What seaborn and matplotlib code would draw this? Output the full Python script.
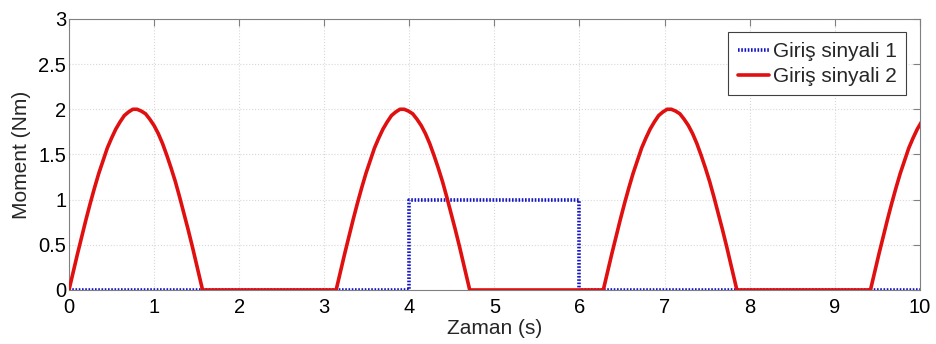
import numpy as np
import pandas as pd
import matplotlib
matplotlib.use("Agg")
import matplotlib.pyplot as plt
import seaborn as sns

# Giris sinyali 1: rectangular pulse
sig1_t = [0, 4, 4, 6, 6, 10]
sig1_y = [0, 0, 1, 1, 0, 0]

# Giris sinyali 2: repeating half-wave humps
hump_dt = [0.00, 0.05, 0.10, 0.15, 0.20, 0.25, 0.30, 0.35, 0.40, 0.45,
           0.50, 0.55, 0.60, 0.65, 0.70, 0.75, 0.80, 0.85, 0.90, 0.95,
           1.00, 1.05, 1.10, 1.15, 1.20, 1.25, 1.30, 1.35, 1.40, 1.45,
           1.50, 1.55, 1.57]
hump_y = [0.00, 0.20, 0.40, 0.59, 0.78, 0.96, 1.13, 1.29, 1.43, 1.57,
          1.68, 1.78, 1.86, 1.93, 1.97, 2.00, 2.00, 1.98, 1.95, 1.89,
          1.82, 1.73, 1.62, 1.49, 1.35, 1.20, 1.03, 0.85, 0.67, 0.48,
          0.28, 0.08, 0.00]
hump_starts = [0.0, 3.14, 6.28, 9.42]

x_ticks = list(range(0, 11))
y_ticks = [0, 0.5, 1, 1.5, 2, 2.5, 3]
y_tick_labels = ["0", "0.5", "1", "1.5", "2", "2.5", "3"]

# build the second series from the hump profile
t2, y2 = [], []
for s in hump_starts:
    t2 += [s + d for d in hump_dt]
    y2 += hump_y
df1 = pd.DataFrame({"t": sig1_t, "y": sig1_y})
df2 = pd.DataFrame({"t": t2, "y": y2})

sns.set_style("white")
plt.rcParams["font.family"] = ["Liberation Sans", "DejaVu Sans"]

fig = plt.figure(figsize=(9.36, 3.44), dpi=100)
ax = fig.add_axes([0.0737, 0.157, 0.909, 0.788])

sns.lineplot(data=df1, x="t", y="y", ax=ax, color="#1414c8", lw=2.6,
             linestyle=(0, (0.45, 0.45)), label="Giriş sinyali 1",
             sort=False, estimator=None, zorder=3)
sns.lineplot(data=df2, x="t", y="y", ax=ax, color="#e01010", lw=2.6,
             label="Giriş sinyali 2", sort=False, estimator=None, zorder=4)

ax.set_xlim(0, 10)
ax.set_ylim(0, 3)
ax.set_xticks(x_ticks)
ax.set_yticks(y_ticks)
ax.set_yticklabels(y_tick_labels)
ax.grid(True, color="#d8d8d8", linestyle=":", linewidth=0.8)
ax.tick_params(direction="in", length=5, width=0.8, colors="#808080",
               labelcolor="black", labelsize=14.5, top=True, right=True)
ax.tick_params(axis="x", pad=6)
ax.tick_params(axis="y", pad=2)
for sp in ax.spines.values():
    sp.set_color("#808080")
    sp.set_linewidth(0.8)
ax.set_xlabel("Zaman (s)", fontsize=15, labelpad=1)
ax.set_ylabel("Moment (Nm)", fontsize=15, labelpad=5)

leg = ax.legend(loc="upper right", fontsize=15, handlelength=1.5,
                handletextpad=0.2, borderpad=0.45, labelspacing=0.3,
                fancybox=False, framealpha=1, borderaxespad=0.65)
leg.get_frame().set_edgecolor("#404040")
leg.get_frame().set_linewidth(0.8)

fig.savefig("out.png", dpi=100)
